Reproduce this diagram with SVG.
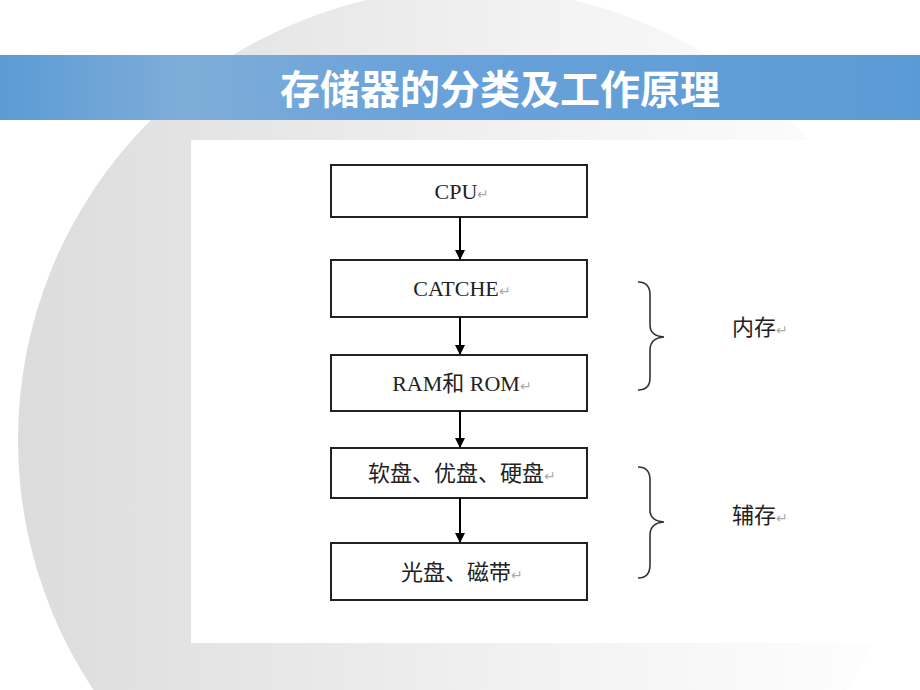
<svg xmlns="http://www.w3.org/2000/svg" width="920" height="690" viewBox="0 0 920 690">
<defs>
<linearGradient id="bg" x1="0" y1="0" x2="1" y2="0">
<stop offset="0" stop-color="#dcdcdc"/><stop offset="0.6" stop-color="#f3f3f3"/><stop offset="1" stop-color="#ffffff"/>
</linearGradient>
<linearGradient id="band" x1="0" y1="0" x2="1" y2="0">
<stop offset="0" stop-color="#5b9bd5"/><stop offset="0.2" stop-color="#7fadd8"/><stop offset="0.45" stop-color="#6aa2da"/><stop offset="1" stop-color="#5b9bd5"/>
</linearGradient>
<marker id="ah" markerWidth="10" markerHeight="10" refX="9" refY="5" orient="auto" markerUnits="userSpaceOnUse">
<path d="M0,0 L10,5 L0,10 Z" fill="#000"/>
</marker>
<style>
.box{fill:#fff;stroke:#222;stroke-width:2}
.t{font-family:"Liberation Serif","Noto Sans CJK SC",serif;font-size:22px;fill:#222;text-anchor:middle}
.r{fill:#aaa;font-size:14px}
.c{stroke:#000;stroke-width:2;fill:none}
.br{stroke:#333;stroke-width:1.6;fill:none}
</style>
</defs>
<rect width="920" height="690" fill="#fff"/>
<circle cx="470" cy="440" r="452" fill="url(#bg)"/>
<rect x="0" y="55" width="920" height="65" fill="url(#band)"/>
<text x="500" y="104" font-family="Noto Sans CJK SC,sans-serif" font-size="40" font-weight="bold" fill="#fff" text-anchor="middle">存储器的分类及工作原理</text>
<rect x="191" y="140" width="729" height="503" fill="#fff"/>
<g id="cpu"><rect class="box" x="331" y="165" width="256" height="52"/><text class="t" x="462" y="199">CPU<tspan class="r">↵</tspan></text></g>
<g id="catche"><rect class="box" x="331" y="260" width="256" height="57"/><text class="t" x="462" y="296">CATCHE<tspan class="r">↵</tspan></text></g>
<g id="ram"><rect class="box" x="331" y="355" width="256" height="56"/><text class="t" x="462" y="391">RAM和 ROM<tspan class="r">↵</tspan></text></g>
<g id="disk"><rect class="box" x="331" y="448" width="256" height="50"/><text class="t" x="462" y="481">软盘、优盘、硬盘<tspan class="r">↵</tspan></text></g>
<g id="cd"><rect class="box" x="331" y="543" width="256" height="57"/><text class="t" x="462" y="580">光盘、磁带<tspan class="r">↵</tspan></text></g>
<g id="connectors">
<line class="c" x1="460" y1="217" x2="460" y2="259" marker-end="url(#ah)"/>
<line class="c" x1="460" y1="317" x2="460" y2="354" marker-end="url(#ah)"/>
<line class="c" x1="460" y1="411" x2="460" y2="447" marker-end="url(#ah)"/>
<line class="c" x1="460" y1="498" x2="460" y2="542" marker-end="url(#ah)"/>
</g>
<g id="neicun">
<path class="br" d="M638,282 Q650,282 650,295 L650,325 Q650,336 664,337 Q650,338 650,350 L650,378 Q650,390 638,390"/>
<text class="t" x="760" y="335">内存<tspan class="r">↵</tspan></text>
</g>
<g id="fucun">
<path class="br" d="M638,467 Q650,467 650,480 L650,510 Q650,521 664,522 Q650,523 650,535 L650,565 Q650,578 638,578"/>
<text class="t" x="760" y="523">辅存<tspan class="r">↵</tspan></text>
</g>
</svg>
